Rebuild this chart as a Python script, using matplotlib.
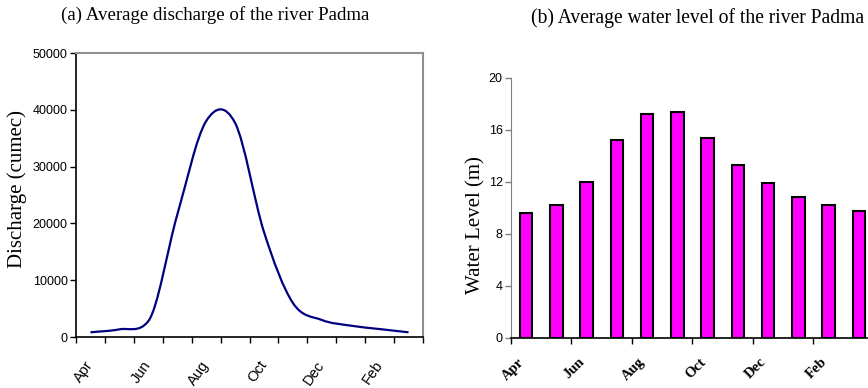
import numpy as np
import matplotlib
matplotlib.use("Agg")
import matplotlib.pyplot as plt
from matplotlib.path import Path
from matplotlib.patches import PathPatch
from matplotlib.transforms import ScaledTranslation

# monthly values (Apr .. Mar)
months = ["Apr", "May", "Jun", "Jul", "Aug", "Sep",
          "Oct", "Nov", "Dec", "Jan", "Feb", "Mar"]
discharge = [830, 1350, 2800, 21500, 38000, 37700,
             18500, 6000, 3000, 2000, 1400, 830]
water_level = [9.6, 10.25, 12.0, 15.25, 17.2, 17.35,
               15.4, 13.3, 11.9, 10.8, 10.25, 9.75]

serif = ["Liberation Serif", "DejaVu Serif"]
sans = ["Liberation Sans", "DejaVu Sans"]


def smooth_path(x, y):
    # Excel style smoothed line: Catmull-Rom tangents drawn as cubic Bezier,
    # tangents shrunk where a monotone run would otherwise overshoot a lot
    x = np.asarray(x, float)
    y = np.asarray(y, float)
    n = len(x)
    m = np.zeros(n)
    m[1:-1] = (y[2:] - y[:-2]) / 2
    m[0] = y[1] - y[0]
    m[-1] = y[-1] - y[-2]
    for i in range(n - 1):
        w = y[[max(i - 1, 0), i, i + 1, min(i + 2, n - 1)]]
        d = np.diff(w)
        if np.all(d >= 0) or np.all(d <= 0):
            lim = 4.5 * abs(y[i + 1] - y[i])
            for k in (i, i + 1):
                if abs(m[k]) > lim:
                    m[k] = np.sign(m[k]) * lim
    verts = [(x[0], y[0])]
    codes = [Path.MOVETO]
    for i in range(n - 1):
        c1 = (x[i] + 1 / 3, y[i] + m[i] / 3)
        c2 = (x[i + 1] - 1 / 3, y[i + 1] - m[i + 1] / 3)
        verts += [c1, c2, (x[i + 1], y[i + 1])]
        codes += [Path.CURVE4] * 3
    return Path(verts, codes)


fig = plt.figure(figsize=(8.68, 3.88), dpi=100)

# (a) discharge line
ax1 = fig.add_axes([0.0876, 0.1314, 0.3997, 0.732])
xpos = np.arange(len(months))
ax1.add_patch(PathPatch(smooth_path(xpos, discharge), fill=False,
                        edgecolor="#000080", lw=1.6))
ax1.set_xlim(-0.5, 11.5)
ax1.set_ylim(0, 50000)
ax1.set_yticks(np.arange(0, 50001, 10000))
ax1.set_xticks(np.arange(-0.5, 12, 1))
ax1.set_xticklabels([])
ax1.set_xticks(xpos[::2], minor=True)
ax1.set_xticklabels(months[::2], minor=True, rotation=55, ha="right",
                    va="center", rotation_mode="anchor", family=sans,
                    fontsize=10.5)
ax1.tick_params(axis="x", which="minor", length=0, pad=18)
ax1.tick_params(axis="x", which="major", length=4, width=1, color="black")
ax1.tick_params(axis="y", length=4, width=1, labelsize=9, pad=2)
for lab in ax1.get_yticklabels():
    lab.set_family(sans)
for s in ["top", "right"]:
    ax1.spines[s].set_color("#909090")
    ax1.spines[s].set_linewidth(1.5)
for s in ["left", "bottom"]:
    ax1.spines[s].set_color("black")
    ax1.spines[s].set_linewidth(1.2)
ax1.set_ylabel("Discharge (cumec)", family=serif, fontsize=15, labelpad=4)
ax1.yaxis.label.set_y(0.521)
fig.text(0.248, 0.962, "(a) Average discharge of the river Padma",
         family=serif, fontsize=13.6, ha="center", va="center")

# (b) water level bars
ax2 = fig.add_axes([0.5887, 0.1289, 0.4182, 0.6709])
ax2.bar(xpos, water_level, width=0.42, color="#FF00FF",
        edgecolor="black", linewidth=1.5)
ax2.set_xlim(-0.5, 11.5)
ax2.set_ylim(0, 20)
ax2.set_yticks(np.arange(0, 21, 4))
ax2.set_xticks(np.arange(-0.5, 12, 2))
ax2.set_xticklabels([])
ax2.set_xticks(xpos[::2], minor=True)
ax2.set_xticklabels(months[::2], minor=True, rotation=45, ha="right",
                    va="center", rotation_mode="anchor", family=serif,
                    fontsize=10.5, fontweight="bold")
ax2.tick_params(axis="x", which="minor", length=0, pad=16)
ax2.tick_params(axis="x", which="major", length=4, width=1, color="black")
ax2.tick_params(axis="y", length=4, width=1, labelsize=9, pad=2,
                color="#808080")
shift = ScaledTranslation(-0.04, 0, fig.dpi_scale_trans)
for t in ax2.xaxis.get_minor_ticks():
    t.label1.set_transform(t.label1.get_transform() + shift)
for lab in ax2.get_yticklabels():
    lab.set_family(sans)
ax2.spines["top"].set_visible(False)
ax2.spines["right"].set_visible(False)
ax2.spines["left"].set_color("#808080")
ax2.spines["bottom"].set_color("black")
ax2.spines["bottom"].set_linewidth(1.2)
ax2.set_ylabel("Water Level (m)", family=serif, fontsize=15, labelpad=2)
ax2.yaxis.label.set_y(0.434)
fig.text(0.804, 0.953, "(b) Average water level of the river Padma",
         family=serif, fontsize=14.1, ha="center", va="center")

fig.savefig("out.png", dpi=100)
